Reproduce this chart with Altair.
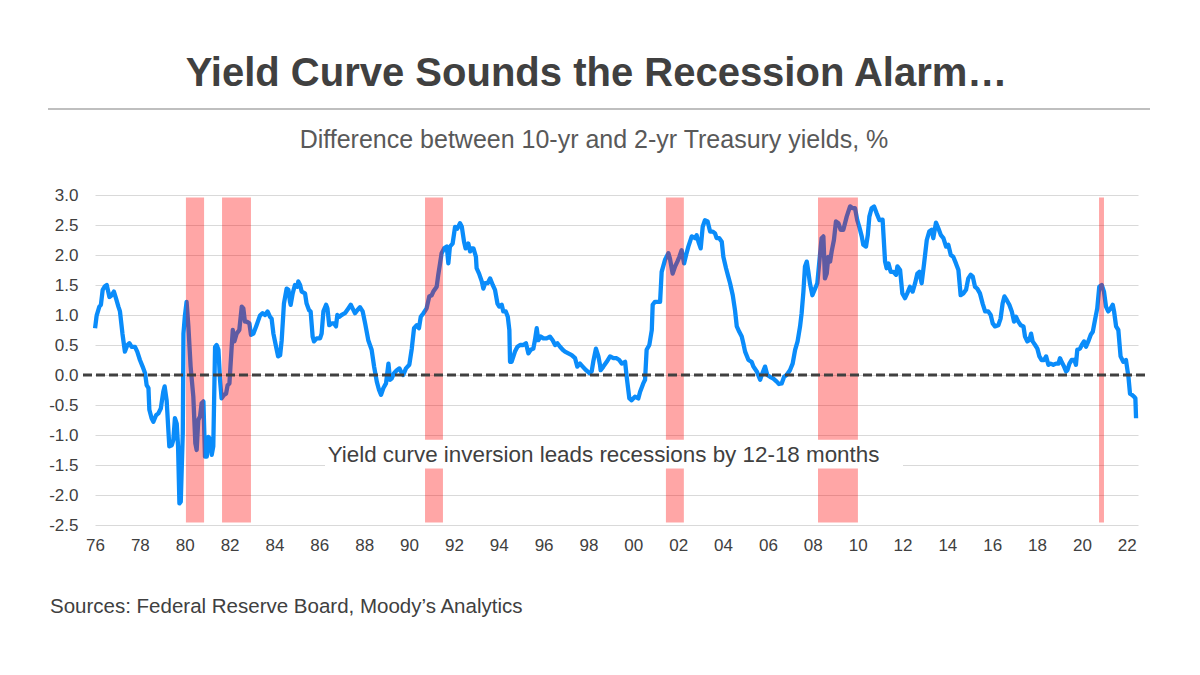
import altair as alt
import pandas as pd

FONT = "Liberation Sans"
DARK = "#404040"

# ---- Spread (10-yr minus 2-yr, %), chart position in decimal years ----
years_a = [1976.42, 1976.49, 1976.61, 1976.68, 1976.76, 1976.86, 1976.94, 1977.06, 1977.16, 1977.26,
           1977.35, 1977.46, 1977.53, 1977.64, 1977.75, 1977.86, 1977.95, 1978.05, 1978.20, 1978.30,
           1978.42, 1978.54, 1978.65, 1978.72, 1978.80, 1978.84, 1978.94, 1979.02, 1979.14, 1979.24,
           1979.35, 1979.46, 1979.52, 1979.61, 1979.73, 1979.84, 1979.91, 1979.98, 1980.06, 1980.12,
           1980.18, 1980.24, 1980.33, 1980.36, 1980.42, 1980.50, 1980.58, 1980.68, 1980.80, 1980.89,
           1980.95, 1981.02, 1981.10, 1981.17, 1981.25, 1981.32, 1981.40, 1981.47, 1981.54, 1981.62,
           1981.69, 1981.77, 1981.84, 1981.92, 1981.99, 1982.06, 1982.17, 1982.26, 1982.33, 1982.41,
           1982.51, 1982.56, 1982.63, 1982.73, 1982.85, 1982.96, 1983.03, 1983.10, 1983.18, 1983.30,
           1983.37, 1983.48, 1983.62, 1983.77, 1983.89, 1984.00, 1984.11, 1984.22, 1984.29, 1984.37,
           1984.49, 1984.58, 1984.67, 1984.74, 1984.84, 1984.96, 1985.04, 1985.11, 1985.14, 1985.23,
           1985.33, 1985.44, 1985.48, 1985.56, 1985.63, 1985.78, 1985.85, 1985.96, 1986.03, 1986.12,
           1986.18, 1986.30, 1986.45, 1986.52, 1986.60, 1986.72, 1986.78, 1986.86, 1986.97, 1987.07,
           1987.16, 1987.22, 1987.31]
spread_a = [0.78, 0.99, 1.14, 1.17, 1.42, 1.48, 1.50, 1.30, 1.33, 1.39,
            1.28, 1.14, 1.06, 0.69, 0.39, 0.50, 0.53, 0.47, 0.47, 0.39,
            0.25, 0.14, 0.03, -0.17, -0.22, -0.58, -0.72, -0.78, -0.67, -0.64,
            -0.56, -0.28, -0.19, -0.42, -1.19, -1.17, -1.08, -0.72, -0.81, -1.19,
            -2.14, -2.11, -0.97, 0.69, 0.97, 1.22, 0.81, 0.14, -0.36, -1.14,
            -1.25, -0.75, -0.69, -0.47, -0.44, -1.36, -1.36, -1.03, -1.06, -1.33,
            -1.19, 0.47, 0.50, 0.42, -0.08, -0.39, -0.33, -0.31, -0.17, -0.14,
            0.47, 0.75, 0.56, 0.69, 0.75, 1.14, 1.11, 0.89, 0.89, 0.86,
            0.67, 0.69, 0.83, 0.99, 1.03, 1.00, 1.06, 0.97, 0.94, 0.69,
            0.47, 0.31, 0.33, 0.58, 1.19, 1.44, 1.42, 1.22, 1.17, 1.36,
            1.50, 1.47, 1.56, 1.50, 1.39, 1.36, 1.19, 1.08, 1.06, 0.64,
            0.56, 0.61, 0.61, 0.69, 1.06, 1.17, 1.11, 0.83, 0.86, 0.86,
            0.81, 1.00, 0.97]

years_b = [1987.41, 1987.56, 1987.71, 1987.82, 1987.90, 1988.01, 1988.11, 1988.23, 1988.35, 1988.46,
           1988.60, 1988.75, 1988.86, 1988.98, 1989.08, 1989.17, 1989.27, 1989.39, 1989.50, 1989.57,
           1989.64, 1989.75, 1989.87, 1989.99, 1990.09, 1990.16, 1990.28, 1990.43, 1990.54, 1990.64,
           1990.76, 1990.86, 1990.94, 1991.06, 1991.20, 1991.32, 1991.43, 1991.50, 1991.65, 1991.72,
           1991.80, 1991.87, 1991.98, 1992.10, 1992.17, 1992.24, 1992.36, 1992.47, 1992.57, 1992.69,
           1992.77, 1992.87, 1992.94, 1993.06, 1993.14, 1993.21, 1993.29, 1993.40, 1993.43, 1993.54,
           1993.66, 1993.73, 1993.81, 1993.92, 1994.03, 1994.15, 1994.25, 1994.36, 1994.44, 1994.55,
           1994.62, 1994.73, 1994.82, 1994.89, 1994.92, 1994.99, 1995.14, 1995.25, 1995.37, 1995.51,
           1995.63, 1995.74, 1995.84, 1995.96, 1996.03, 1996.11, 1996.18, 1996.29, 1996.41, 1996.55,
           1996.70, 1996.82, 1996.93, 1997.03, 1997.15, 1997.27, 1997.37, 1997.52, 1997.67, 1997.82,
           1997.92, 1998.04, 1998.16, 1998.31, 1998.46, 1998.56, 1998.63, 1998.75, 1998.86, 1998.93]
spread_b = [1.00, 1.03, 1.11, 1.17, 1.11, 1.03, 1.08, 1.13, 1.06, 0.86,
            0.58, 0.42, 0.14, -0.11, -0.25, -0.33, -0.22, -0.14, 0.19, -0.08,
            -0.06, 0.03, 0.08, 0.11, 0.03, 0.00, 0.11, 0.17, 0.44, 0.78,
            0.83, 0.78, 0.97, 1.03, 1.11, 1.31, 1.33, 1.39, 1.47, 1.67,
            1.86, 2.03, 2.11, 2.14, 1.86, 2.14, 2.19, 2.47, 2.44, 2.53,
            2.47, 2.22, 2.11, 2.19, 2.06, 2.11, 2.11, 1.97, 1.78, 1.69,
            1.56, 1.44, 1.53, 1.53, 1.61, 1.50, 1.42, 1.19, 1.14, 1.17,
            1.06, 1.06, 0.97, 0.75, 0.22, 0.22, 0.39, 0.47, 0.50, 0.50,
            0.53, 0.36, 0.42, 0.44, 0.58, 0.78, 0.58, 0.64, 0.61, 0.61,
            0.64, 0.58, 0.50, 0.53, 0.47, 0.42, 0.39, 0.36, 0.33, 0.28,
            0.14, 0.19, 0.14, 0.08, 0.03, 0.06, 0.22, 0.44, 0.31, 0.17]

years_c = [1998.96, 1999.08, 1999.23, 1999.38, 1999.53, 1999.67, 1999.79, 1999.90, 2000.05, 2000.12,
           2000.24, 2000.34, 2000.49, 2000.64, 2000.72, 2000.86, 2000.94, 2001.01, 2001.13, 2001.24,
           2001.28, 2001.38, 2001.61, 2001.68, 2001.83, 2001.98, 2002.05, 2002.17, 2002.28, 2002.38,
           2002.47, 2002.57, 2002.68, 2002.77, 2002.87, 2003.02, 2003.17, 2003.24, 2003.32, 2003.42,
           2003.51, 2003.61, 2003.73, 2003.84, 2003.96, 2004.06, 2004.13, 2004.25, 2004.36, 2004.43,
           2004.55, 2004.65, 2004.73, 2004.85, 2004.95, 2005.03, 2005.14, 2005.25, 2005.32, 2005.40,
           2005.55, 2005.69, 2005.77, 2005.92, 2006.07, 2006.14, 2006.29, 2006.39, 2006.51, 2006.66,
           2006.81, 2006.91, 2007.03, 2007.14, 2007.25, 2007.40, 2007.52, 2007.63, 2007.74, 2007.85,
           2007.92, 2008.00, 2008.07, 2008.15, 2008.22, 2008.29, 2008.40, 2008.52, 2008.62, 2008.71,
           2008.81, 2008.89, 2008.96, 2009.04, 2009.11, 2009.19, 2009.26, 2009.36, 2009.45, 2009.56,
           2009.66, 2009.78, 2009.93, 2010.08, 2010.20, 2010.30, 2010.40, 2010.49, 2010.60, 2010.67,
           2010.79, 2010.87, 2010.94, 2011.04, 2011.15, 2011.27, 2011.39]
spread_c = [0.08, 0.14, 0.22, 0.31, 0.28, 0.28, 0.25, 0.19, 0.22, -0.03,
            -0.39, -0.42, -0.36, -0.39, -0.28, -0.14, -0.08, 0.42, 0.50, 0.75,
            1.17, 1.22, 1.22, 1.72, 1.92, 2.03, 1.94, 1.69, 1.81, 1.89,
            1.97, 2.08, 1.86, 2.00, 2.14, 2.31, 2.28, 2.33, 2.22, 2.11,
            2.47, 2.58, 2.56, 2.39, 2.39, 2.36, 2.28, 2.28, 2.22, 1.97,
            1.78, 1.64, 1.53, 1.33, 1.08, 0.81, 0.72, 0.64, 0.53, 0.39,
            0.25, 0.22, 0.14, 0.06, -0.08, 0.00, 0.14, 0.00, -0.03, -0.06,
            -0.11, -0.15, -0.14, -0.03, 0.00, 0.08, 0.19, 0.42, 0.56, 0.81,
            1.03, 1.39, 1.81, 1.89, 1.72, 1.53, 1.33, 1.44, 1.53, 1.89,
            2.28, 2.31, 1.61, 1.69, 1.97, 1.89, 2.06, 2.25, 2.56, 2.53,
            2.42, 2.42, 2.64, 2.81, 2.78, 2.78, 2.58, 2.47, 2.31, 2.17,
            2.14, 2.33, 2.64, 2.78, 2.81, 2.69, 2.58]

years_d = [2011.53, 2011.64, 2011.71, 2011.79, 2011.89, 2012.01, 2012.13, 2012.19, 2012.31, 2012.41,
           2012.53, 2012.63, 2012.75, 2012.87, 2012.98, 2013.08, 2013.17, 2013.27, 2013.38, 2013.50,
           2013.61, 2013.72, 2013.79, 2013.91, 2014.02, 2014.13, 2014.24, 2014.36, 2014.46, 2014.57,
           2014.68, 2014.80, 2014.91, 2015.01, 2015.13, 2015.25, 2015.35, 2015.46, 2015.55, 2015.65,
           2015.75, 2015.87, 2015.99, 2016.10, 2016.24, 2016.35, 2016.44, 2016.54, 2016.69, 2016.79,
           2016.88, 2016.96, 2017.06, 2017.18, 2017.29, 2017.39, 2017.48, 2017.58, 2017.69, 2017.81,
           2017.88, 2017.98, 2018.07, 2018.15, 2018.22, 2018.33, 2018.43, 2018.52, 2018.62, 2018.73,
           2018.82, 2018.92, 2019.02, 2019.14, 2019.26, 2019.37, 2019.44, 2019.51, 2019.62, 2019.71,
           2019.77, 2019.86, 2019.96, 2020.08, 2020.15, 2020.21, 2020.33, 2020.41, 2020.51, 2020.60,
           2020.70, 2020.81, 2020.90, 2021.00, 2021.10, 2021.19, 2021.30, 2021.40, 2021.49, 2021.59,
           2021.70, 2021.79, 2021.85, 2021.94, 2022.04, 2022.14, 2022.26, 2022.38, 2022.49, 2022.56,
           2022.64, 2022.74, 2022.80, 2022.83]
spread_d = [2.59, 1.89, 1.78, 1.86, 1.72, 1.72, 1.67, 1.81, 1.75, 1.36,
            1.28, 1.36, 1.47, 1.39, 1.53, 1.69, 1.72, 1.53, 1.86, 2.25,
            2.39, 2.42, 2.28, 2.54, 2.44, 2.33, 2.28, 2.14, 2.17, 2.00,
            1.97, 1.86, 1.75, 1.33, 1.36, 1.42, 1.61, 1.67, 1.64, 1.47,
            1.44, 1.36, 1.19, 1.06, 1.06, 1.00, 0.86, 0.81, 0.83, 0.94,
            1.19, 1.31, 1.25, 1.17, 1.06, 0.89, 0.97, 0.89, 0.83, 0.81,
            0.64, 0.56, 0.58, 0.69, 0.56, 0.50, 0.44, 0.31, 0.25, 0.25,
            0.31, 0.17, 0.19, 0.17, 0.19, 0.19, 0.28, 0.22, 0.14, 0.06,
            0.08, 0.19, 0.25, 0.25, 0.17, 0.42, 0.44, 0.50, 0.56, 0.47,
            0.56, 0.67, 0.72, 0.92, 1.11, 1.47, 1.50, 1.39, 1.14, 1.06,
            1.11, 1.17, 1.06, 0.81, 0.75, 0.31, 0.22, 0.25, -0.03, -0.31,
            -0.33, -0.36, -0.39, -0.72]

# ---- Recession shading, as placed on the chart ----
rec_start = [1980.47, 1982.08, 1991.13, 2001.87, 2008.65, 2021.18]
rec_end = [1981.28, 1983.37, 1991.93, 2002.67, 2010.43, 2021.40]
rec_top = 2.96
rec_bottom = -2.46

# ---- Axis ticks ----
tick_years = list(range(1976, 2023, 2))
y_ticks = [-2.5, -2.0, -1.5, -1.0, -0.5, 0.0, 0.5, 1.0, 1.5, 2.0, 2.5, 3.0]

# ---- Texts ----
title_text = "Yield Curve Sounds the Recession Alarm…"
subtitle_text = "Difference between 10-yr and 2-yr Treasury yields, %"
note_text = "Yield curve inversion leads recessions by 12-18 months"
source_text = "Sources: Federal Reserve Board, Moody’s Analytics"
note_box_x = [1986.67, 2012.44]
note_box_y = [-1.08, -1.56]
note_pos = [1999.09, -1.445]

years = years_a + years_b + years_c + years_d
spread = spread_a + spread_b + spread_c + spread_d
assert len(years) == len(spread)

line_df = pd.DataFrame({"year": years, "spread": spread})
rec_df = pd.DataFrame({"x0": rec_start, "x1": rec_end,
                       "y0": [rec_bottom] * len(rec_start), "y1": [rec_top] * len(rec_start)})
box_df = pd.DataFrame({"x0": [note_box_x[0]], "x1": [note_box_x[1]],
                       "y0": [note_box_y[0]], "y1": [note_box_y[1]]})
note_df = pd.DataFrame({"x": [note_pos[0]], "y": [note_pos[1]], "t": [note_text]})
zero_df = pd.DataFrame({"y": [0.0]})

X_MIN, X_MAX = 1976 + 5 / 12, 2022 + 11 / 12
x_scale = alt.Scale(domain=[X_MIN, X_MAX], nice=False, zero=False)
y_scale = alt.Scale(domain=[-2.5, 3.0], nice=False, zero=False)

x_axis = alt.Axis(values=[y + 5 / 12 for y in tick_years],
                  labelExpr="slice('0' + toString(floor(datum.value) % 100), -2)",
                  grid=False, domain=False, ticks=False, labelFlush=False, labelOverlap=False,
                  labelFont=FONT, labelFontSize=17, labelColor=DARK, labelPadding=12, title=None)
y_axis = alt.Axis(values=y_ticks,
                  labelExpr="(datum.value < 0 ? '-' : '') + format(abs(datum.value), '.1f')",
                  grid=True, gridColor="#D9D9D9", gridWidth=1, domain=False, ticks=False,
                  labelFlush=False, labelFont=FONT, labelFontSize=17, labelColor=DARK,
                  labelPadding=17, title=None)

X = lambda f: alt.X(f, type="quantitative", scale=x_scale, axis=x_axis)
Y = lambda f: alt.Y(f, type="quantitative", scale=y_scale, axis=y_axis)

line = alt.Chart(line_df).mark_line(color="#0A8CFA", strokeWidth=4.3, strokeJoin="round").encode(
    x=X("year"), y=Y("spread"))

bars = alt.Chart(rec_df).mark_rect(color="#FF0000", opacity=0.35).encode(
    x=X("x0"), x2="x1", y=Y("y0"), y2="y1")

box = alt.Chart(box_df).mark_rect(color="white", opacity=1).encode(
    x=X("x0"), x2="x1", y=Y("y0"), y2="y1")

note = alt.Chart(note_df).mark_text(font=FONT, fontSize=22.4, color=DARK, align="center",
                                    baseline="alphabetic").encode(
    x=X("x"), y=Y("y"), text="t:N")

zero = alt.Chart(zero_df).mark_rule(color=DARK, strokeWidth=3, strokeDash=[9, 4], clip=False).encode(
    x=alt.value(-12), x2=alt.value(1053), y=Y("y"))

title = alt.Chart(pd.DataFrame({"t": [title_text]})).mark_text(
    font=FONT, fontSize=40, fontWeight="bold", color=DARK, align="center", baseline="alphabetic").encode(
    x=alt.value(501.5), y=alt.value(-109), text="t:N")

subtitle = alt.Chart(pd.DataFrame({"t": [subtitle_text]})).mark_text(
    font=FONT, fontSize=25, color="#595959", align="center", baseline="alphabetic").encode(
    x=alt.value(499), y=alt.value(-47), text="t:N")

separator = alt.Chart(pd.DataFrame({"k": [0]})).mark_rule(color="#BFBFBF", strokeWidth=2).encode(
    x=alt.value(-47), x2=alt.value(1055), y=alt.value(-86))

source = alt.Chart(pd.DataFrame({"t": [source_text]})).mark_text(
    font=FONT, fontSize=20.5, color=DARK, align="left", baseline="alphabetic").encode(
    x=alt.value(-45), y=alt.value(418), text="t:N")

chart = alt.layer(line, bars, box, note, zero, title, subtitle, separator, source).properties(
    width=1043, height=330,
    autosize=alt.AutoSizeParams(type="none"),
    padding={"left": 87, "top": 187, "right": 54, "bottom": 142},
).configure_view(stroke=None)

chart.save("out.html", embed_options={"renderer": "svg", "actions": False})
